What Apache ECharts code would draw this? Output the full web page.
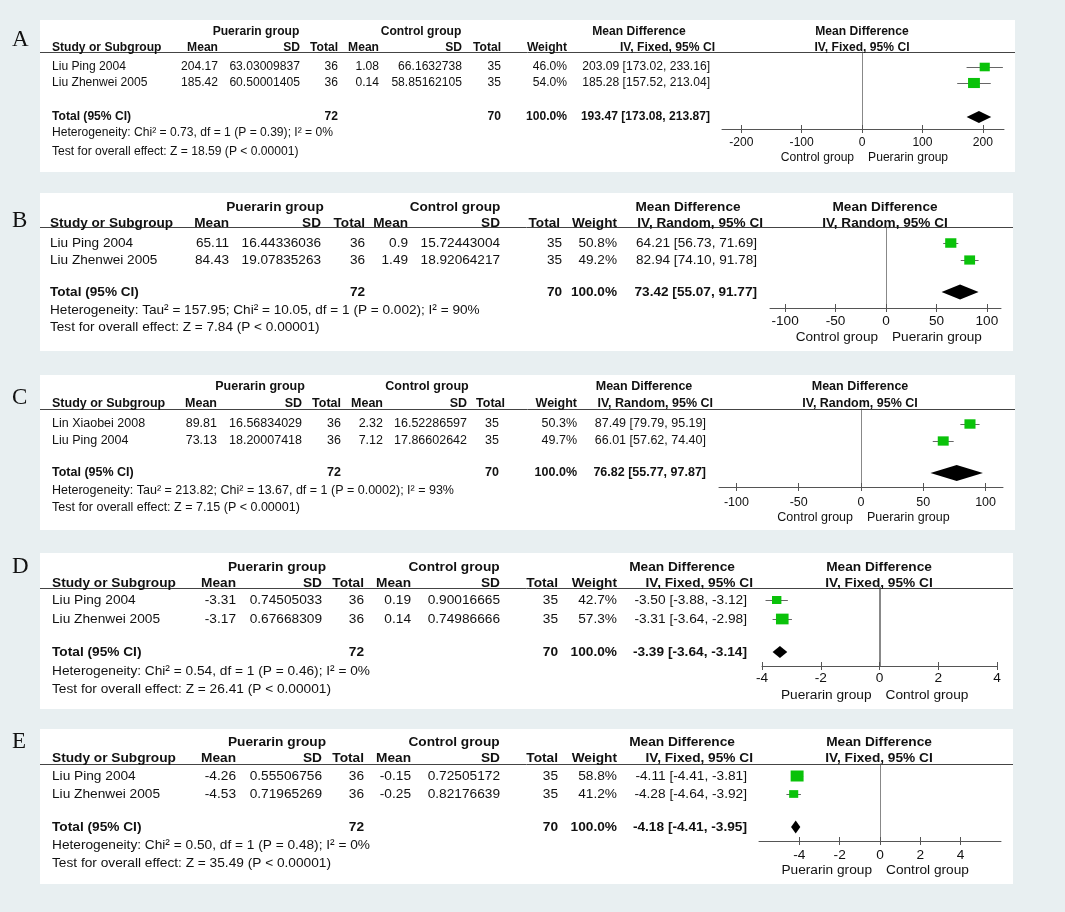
<!DOCTYPE html>
<html><head><meta charset="utf-8">
<script src="https://cdn.jsdelivr.net/npm/echarts@6/dist/echarts.min.js"></script>
<style>html,body{margin:0;padding:0;background:#e8eff1;}#c{width:1065px;height:912px;}</style>
</head><body><div id="c"></div>
<script>
// ---------- DATA ----------
const panelLetters = ['A','B','C','D','E'];
const studies = [
  ['Liu Ping 2004','Liu Zhenwei 2005'],
  ['Liu Ping 2004','Liu Zhenwei 2005'],
  ['Lin Xiaobei 2008','Liu Ping 2004'],
  ['Liu Ping 2004','Liu Zhenwei 2005'],
  ['Liu Ping 2004','Liu Zhenwei 2005']
];
const pMean = [[204.17,185.42],[65.11,84.43],[89.81,73.13],[-3.31,-3.17],[-4.26,-4.53]];
const pSD   = [[63.03009837,60.50001405],[16.44336036,19.07835263],[16.56834029,18.20007418],[0.74505033,0.67668309],[0.55506756,0.71965269]];
const pN    = [[36,36],[36,36],[36,36],[36,36],[36,36]];
const cMean = [[1.08,0.14],[0.9,1.49],[2.32,7.12],[0.19,0.14],[-0.15,-0.25]];
const cSD   = [[66.1632738,58.85162105],[15.72443004,18.92064217],[16.52286597,17.86602642],[0.90016665,0.74986666],[0.72505172,0.82176639]];
const cN    = [[35,35],[35,35],[35,35],[35,35],[35,35]];
const weights = [[46.0,54.0],[50.8,49.2],[50.3,49.7],[42.7,57.3],[58.8,41.2]];
const md    = [[203.09,185.28],[64.21,82.94],[87.49,66.01],[-3.50,-3.31],[-4.11,-4.28]];
const ciLo  = [[173.02,157.52],[56.73,74.10],[79.79,57.62],[-3.88,-3.64],[-4.41,-4.64]];
const ciHi  = [[233.16,213.04],[71.69,91.78],[95.19,74.40],[-3.12,-2.98],[-3.81,-3.92]];
const totalMD = [193.47,73.42,76.82,-3.39,-4.18];
const totalLo = [173.08,55.07,55.77,-3.64,-4.41];
const totalHi = [213.87,91.77,97.87,-3.14,-3.95];
const pTotal = [72,72,72,72,72];
const cTotal = [70,70,70,70,70];
const methods = ['IV, Fixed, 95% CI','IV, Random, 95% CI','IV, Random, 95% CI','IV, Fixed, 95% CI','IV, Fixed, 95% CI'];
const heterogeneity = [
  'Heterogeneity: Chi\u00b2 = 0.73, df = 1 (P = 0.39); I\u00b2 = 0%',
  'Heterogeneity: Tau\u00b2 = 157.95; Chi\u00b2 = 10.05, df = 1 (P = 0.002); I\u00b2 = 90%',
  'Heterogeneity: Tau\u00b2 = 213.82; Chi\u00b2 = 13.67, df = 1 (P = 0.0002); I\u00b2 = 93%',
  'Heterogeneity: Chi\u00b2 = 0.54, df = 1 (P = 0.46); I\u00b2 = 0%',
  'Heterogeneity: Chi\u00b2 = 0.50, df = 1 (P = 0.48); I\u00b2 = 0%'
];
const overallEffect = [
  'Test for overall effect: Z = 18.59 (P < 0.00001)',
  'Test for overall effect: Z = 7.84 (P < 0.00001)',
  'Test for overall effect: Z = 7.15 (P < 0.00001)',
  'Test for overall effect: Z = 26.41 (P < 0.00001)',
  'Test for overall effect: Z = 35.49 (P < 0.00001)'
];
const favoursLeft  = ['Control group','Control group','Control group','Puerarin group','Puerarin group'];
const favoursRight = ['Puerarin group','Puerarin group','Puerarin group','Control group','Control group'];
const axisMin = [-232,-115,-114,-4,-6];
const axisMax = [235,114,114,4,6];
const axisTicks = [[-200,-100,0,100,200],[-100,-50,0,50,100],[-100,-50,0,50,100],[-4,-2,0,2,4],[-4,-2,0,2,4]];

// ---------- LAYOUT ----------
const colsDE = {study:52,pMean:236,pSD:322,pN:364,cMean:411,cSD:500,cN:558,cNHdr:558,w:617,ci:747,ciHdr:753};
const L = [
 {box:[40,20,1015,172], letterY:40, fs:12.1, h1:32, h2:48, line:52, rows:[67,83], tot:117, het:133, test:152,
  col:{study:52,pMean:218,pSD:300,pN:338,cMean:379,cSD:462,cN:501,cNHdr:501,w:567,ci:710,ciHdr:715},
  pGrpC:256, cGrpC:421, mdC:639, fC:862, fx:[722,1004], axisY:129, tickY:143, favY:158, dh:6},
 {box:[40,193,1013,351], letterY:221, fs:13.6, h1:207, h2:223, line:227, rows:[243,260], tot:292, het:310, test:327,
  col:{study:50,pMean:229,pSD:321,pN:365,cMean:408,cSD:500,cN:562,cNHdr:560,w:617,ci:757,ciHdr:763},
  pGrpC:275, cGrpC:455, mdC:688, fC:885, fx:[770,1001], axisY:308, tickY:321, favY:337, dh:7.5},
 {box:[40,375,1015,530], letterY:398, fs:12.5, h1:387, h2:404, line:409, rows:[424,441], tot:473, het:491, test:508,
  col:{study:52,pMean:217,pSD:302,pN:341,cMean:383,cSD:467,cN:499,cNHdr:505,w:577,ci:706,ciHdr:713},
  pGrpC:260, cGrpC:427, mdC:644, fC:860, fx:[719,1003], axisY:487, tickY:502, favY:518, dh:8},
 {box:[40,553,1013,709], letterY:567, fs:13.7, h1:567, h2:583, line:588, rows:[600,619], tot:652, het:671, test:689,
  col:colsDE, pGrpC:277, cGrpC:454, mdC:682, fC:879, fx:[762,997], axisY:666, tickY:678, favY:695, dh:6},
 {box:[40,729,1013,884], letterY:742, fs:13.7, h1:742, h2:758, line:764, rows:[776,794], tot:827, het:845, test:863,
  col:colsDE, pGrpC:277, cGrpC:454, mdC:682, fC:879, fx:[759,1001], axisY:841, tickY:855, favY:870, dh:6.5}
];

const FONT = '"Liberation Sans", Arial, Helvetica, sans-serif';
const TXT = '#111';

function txt(x, y, s, fs, align, bold) {
  return {type:'text', x:x, y:y, z:10, silent:true,
    style:{text:s, fill:TXT, fontSize:fs, fontFamily:FONT, fontWeight:bold?'bold':'normal',
      align:align||'left', verticalAlign:'middle'}};
}

function makeRender(dh) {
  return function(params, api) {
    const y = api.value(1);
    const c = api.coord([api.value(0), y]);
    const a = api.coord([api.value(2), y]);
    const b = api.coord([api.value(3), y]);
    if (api.value(5) === 1) {
      return {type:'polygon', shape:{points:[[a[0],c[1]],[c[0],c[1]-dh],[b[0],c[1]],[c[0],c[1]+dh]]},
        style:{fill:'#000'}};
    }
    const s = 0.22 * api.value(4), h = s * 0.85;
    const yy = Math.round(c[1]) + 0.5;
    return {type:'group', children:[
      {type:'line', shape:{x1:a[0], y1:yy, x2:b[0], y2:yy}, style:{stroke:'#666', lineWidth:1}},
      {type:'rect', shape:{x:c[0]-s/2, y:c[1]-h/2, width:s, height:h}, style:{fill:'#0ac20a'}}
    ]};
  };
}

const graphic = [], grids = [], xAxes = [], yAxes = [], series = [];
panelLetters.forEach(function(letter, k) {
  const g = L[k], col = g.col, fs = g.fs;
  const [bx1, by1, bx2, by2] = g.box;
  graphic.push({type:'rect', z:-10, silent:true, shape:{x:bx1, y:by1, width:bx2-bx1, height:by2-by1}, style:{fill:'#fff'}});
  graphic.push({type:'text', x:12, y:g.letterY, z:10, silent:true,
    style:{text:letter, fill:TXT, fontSize:23, fontFamily:'"Liberation Serif", "DejaVu Serif", serif', align:'left', verticalAlign:'middle'}});
  graphic.push({type:'line', z:5, silent:true, shape:{x1:bx1, y1:g.line+0.5, x2:bx2, y2:g.line+0.5}, style:{stroke:'#444', lineWidth:1}});
  // header row 1
  graphic.push(txt(g.pGrpC, g.h1, 'Puerarin group', fs, 'center', true));
  graphic.push(txt(g.cGrpC, g.h1, 'Control group', fs, 'center', true));
  graphic.push(txt(g.mdC, g.h1, 'Mean Difference', fs, 'center', true));
  graphic.push(txt(g.fC, g.h1, 'Mean Difference', fs, 'center', true));
  // header row 2
  graphic.push(txt(col.study, g.h2, 'Study or Subgroup', fs, 'left', true));
  graphic.push(txt(col.pMean, g.h2, 'Mean', fs, 'right', true));
  graphic.push(txt(col.pSD, g.h2, 'SD', fs, 'right', true));
  graphic.push(txt(col.pN, g.h2, 'Total', fs, 'right', true));
  graphic.push(txt(col.cMean, g.h2, 'Mean', fs, 'right', true));
  graphic.push(txt(col.cSD, g.h2, 'SD', fs, 'right', true));
  graphic.push(txt(col.cNHdr, g.h2, 'Total', fs, 'right', true));
  graphic.push(txt(col.w, g.h2, 'Weight', fs, 'right', true));
  graphic.push(txt(col.ciHdr, g.h2, methods[k], fs, 'right', true));
  graphic.push(txt(g.fC, g.h2, methods[k], fs, 'center', true));
  // study rows
  const data = [];
  studies[k].forEach(function(name, i) {
    const y = g.rows[i];
    graphic.push(txt(col.study, y, name, fs, 'left', false));
    graphic.push(txt(col.pMean, y, String(pMean[k][i]), fs, 'right', false));
    graphic.push(txt(col.pSD, y, String(pSD[k][i]), fs, 'right', false));
    graphic.push(txt(col.pN, y, String(pN[k][i]), fs, 'right', false));
    graphic.push(txt(col.cMean, y, String(cMean[k][i]), fs, 'right', false));
    graphic.push(txt(col.cSD, y, String(cSD[k][i]), fs, 'right', false));
    graphic.push(txt(col.cN, y, String(cN[k][i]), fs, 'right', false));
    graphic.push(txt(col.w, y, weights[k][i].toFixed(1) + '%', fs, 'right', false));
    graphic.push(txt(col.ci, y, md[k][i].toFixed(2) + ' [' + ciLo[k][i].toFixed(2) + ', ' + ciHi[k][i].toFixed(2) + ']', fs, 'right', false));
    data.push([md[k][i], y - g.line, ciLo[k][i], ciHi[k][i], weights[k][i], 0]);
  });
  // total row
  graphic.push(txt(col.study, g.tot, 'Total (95% CI)', fs, 'left', true));
  graphic.push(txt(col.pN, g.tot, String(pTotal[k]), fs, 'right', true));
  graphic.push(txt(col.cN, g.tot, String(cTotal[k]), fs, 'right', true));
  graphic.push(txt(col.w, g.tot, '100.0%', fs, 'right', true));
  graphic.push(txt(col.ci, g.tot, totalMD[k].toFixed(2) + ' [' + totalLo[k].toFixed(2) + ', ' + totalHi[k].toFixed(2) + ']', fs, 'right', true));
  data.push([totalMD[k], g.tot - g.line, totalLo[k], totalHi[k], 100, 1]);
  graphic.push(txt(col.study, g.het, heterogeneity[k], fs, 'left', false));
  graphic.push(txt(col.study, g.test, overallEffect[k], fs, 'left', false));
  // favours labels
  const x0 = g.fx[0] + (0 - axisMin[k]) / (axisMax[k] - axisMin[k]) * (g.fx[1] - g.fx[0]);
  graphic.push(txt(x0 - 8, g.favY, favoursLeft[k], fs, 'right', false));
  graphic.push(txt(x0 + 6, g.favY, favoursRight[k], fs, 'left', false));

  // forest plot grid
  grids.push({left:g.fx[0], width:g.fx[1]-g.fx[0], top:g.line, height:g.axisY-g.line, containLabel:false});
  xAxes.push({type:'value', gridIndex:k, min:axisMin[k], max:axisMax[k], position:'bottom',
    axisLine:{show:true, onZero:false, lineStyle:{color:'#555', width:1}},
    axisTick:{show:true, length:4, customValues:axisTicks[k], lineStyle:{color:'#555'}},
    axisLabel:{show:true, customValues:axisTicks[k], margin:Math.max(2, g.tickY - g.axisY - fs/2),
      fontSize:fs, fontFamily:FONT, color:TXT},
    splitLine:{show:false}});
  xAxes.push({type:'value', gridIndex:k, min:axisMin[k], max:axisMax[k], position:'bottom',
    axisLine:{show:false, onZero:false},
    axisTick:{show:true, inside:true, length:4, customValues:axisTicks[k], lineStyle:{color:'#555'}},
    axisLabel:{show:false}, splitLine:{show:false}});
  yAxes.push({type:'value', gridIndex:k, min:0, max:g.axisY-g.line, inverse:true,
    axisLine:{show:true, onZero:true, onZeroAxisIndex:2*k, lineStyle:{color:'#888', width:k===3?2:1}},
    axisTick:{show:false}, axisLabel:{show:false}, splitLine:{show:false}});
  series.push({type:'custom', xAxisIndex:2*k, yAxisIndex:k, renderItem:makeRender(g.dh),
    data:data, encode:{x:[0,2,3], y:1}, silent:true, clip:false, z:5});
});

const chart = echarts.init(document.getElementById('c'), null, {renderer:'canvas'});
chart.setOption({
  backgroundColor:'#e8eff1',
  animation:false,
  grid:grids, xAxis:xAxes, yAxis:yAxes, series:series,
  graphic:{elements:graphic}
});
</script></body></html>
